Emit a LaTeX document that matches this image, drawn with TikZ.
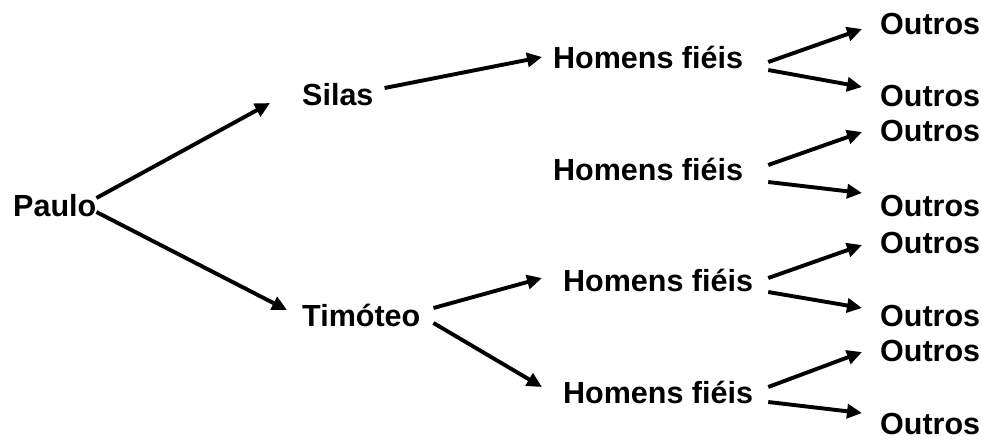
\documentclass[tikz,border=0pt]{standalone}
\usepackage{fontspec}
\setmainfont{Liberation Sans}
\usetikzlibrary{arrows.meta,calc}
\tikzset{
  lbl/.style={anchor=base west, inner sep=0pt, font=\fontsize{30.5}{36}\selectfont\bfseries},
  arr/.style={line width=3.9pt, -{Triangle[length=15pt,width=14pt]}}
}
\begin{document}
\begin{tikzpicture}[x=1pt,y=-1pt]
\useasboundingbox (0,0) rectangle (982,440);
% nodes
\node[lbl] (paulo) at (13,216) {Paulo};
\node[lbl] (silas) at (302,105) {Silas};
\node[lbl] (tim) at (302,326) {Timóteo};
\node[lbl] (hf1) at (553,68) {Homens fiéis};
\node[lbl] (hf2) at (553,180) {Homens fiéis};
\node[lbl] (hf3) at (563,291) {Homens fiéis};
\node[lbl] (hf4) at (563,403) {Homens fiéis};
\node[lbl] (o1) at (880,34) {Outros};
\node[lbl] (o2) at (880,106) {Outros};
\node[lbl] (o3) at (880,141) {Outros};
\node[lbl] (o4) at (880,216) {Outros};
\node[lbl] (o5) at (880,253) {Outros};
\node[lbl] (o6) at (880,326) {Outros};
\node[lbl] (o7) at (880,361) {Outros};
\node[lbl] (o8) at (880,434) {Outros};
% connectors
\draw[arr] ($(paulo.base east)+(0,-18)$) -- ($(silas.base west)+(-32,-2)$);
\draw[arr] ($(paulo.base east)+(0,-4)$) -- ($(tim.base west)+(-15,-16)$);
\draw[arr] ($(silas.base east)+(11,-17)$) -- ($(hf1.base west)+(-11,-11)$);
\draw[arr] ($(tim.base east)+(13,-18)$) -- ($(hf3.base west)+(-21,-13)$);
\draw[arr] ($(tim.base east)+(13,-3)$) -- ($(hf4.base west)+(-21,-16)$);
\draw[arr] ($(hf1.base east)+(25,-6)$) -- ($(o1.base west)+(-18,-5)$);
\draw[arr] ($(hf1.base east)+(25,2)$) -- ($(o2.base west)+(-18,-19)$);
\draw[arr] ($(hf2.base east)+(25,-15)$) -- ($(o3.base west)+(-18,-9)$);
\draw[arr] ($(hf2.base east)+(25,2)$) -- ($(o4.base west)+(-18,-23)$);
\draw[arr] ($(hf3.base east)+(15,-13)$) -- ($(o5.base west)+(-18,-8)$);
\draw[arr] ($(hf3.base east)+(15,1)$) -- ($(o6.base west)+(-18,-18)$);
\draw[arr] ($(hf4.base east)+(15,-16)$) -- ($(o7.base west)+(-18,-9)$);
\draw[arr] ($(hf4.base east)+(15,-1)$) -- ($(o8.base west)+(-18,-21)$);
\end{tikzpicture}
\end{document}
